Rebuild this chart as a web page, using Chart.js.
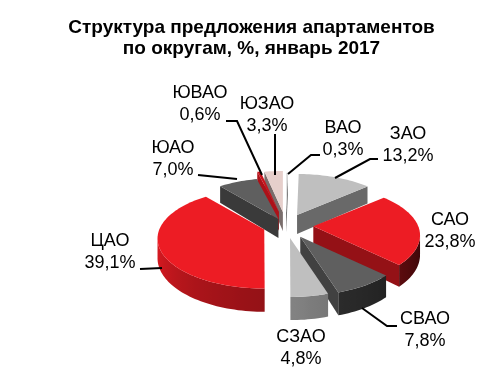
<!DOCTYPE html>
<html lang="ru">
<head>
<meta charset="UTF-8">
<title>Апартаменты</title>
<script src="https://cdn.jsdelivr.net/npm/chart.js@4"></script>
<style>
html,body{margin:0;padding:0;background:#fff;}
#wrap{width:503px;height:375px;}
</style>
</head>
<body>
<div id="wrap"><canvas id="pie" width="503" height="375"></canvas></div>
<script>
const titleLines = ["Структура предложения апартаментов", "по округам, %, январь 2017"];
const districts = ["ВАО", "ЗАО", "САО", "СВАО", "СЗАО", "ЦАО", "ЮАО", "ЮВАО", "ЮЗАО"];
const shares = [0.3, 13.2, 23.8, 7.8, 4.8, 39.1, 7.0, 0.6, 3.3];
const shareText = ["0,3%", "13,2%", "23,8%", "7,8%", "4,8%", "39,1%", "7,0%", "0,6%", "3,3%"];
const colors = ["#d9d9d9", "#bfbfbf", "#ed1c24", "#5f5f5f", "#bfbfbf", "#ed1c24", "#5f5f5f", "#c8141c", "#e6cfcb"];
const wallTone = [1, 1.1, 0.85, 0.8, 1.1, 1, 0.8, 1, 0.6];
// вынос секторов, % от радиуса
const explode = [25, 25, 26, 26, 25, 22, 16, 30, 29];

// подписи: центр x, базовая линия первой строки
const labelX = [343, 408, 450, 425, 301, 110, 173, 200, 267];
const labelY = [133, 139, 225, 324, 342, 246, 153, 98, 109];
const leaders = [
    [[320,155],[311,155],[288,174]],
    [[378,159],[370,159],[335,178]],
    [],
    [[362,308],[387,326],[397,326]],
    [],
    [[140,269],[162,268]],
    [[198,175],[237,179]],
    [[226,121],[237,121],[262,175]],
    [[275,134],[275,175]]
];

// псевдо-3D: перспектива как в исходной картинке
const A = 105, B = 48.4, P = 0.18, D = 19, SHIFT_X = 34.5;

function shade(hex, k){
    const n = parseInt(hex.slice(1), 16);
    const c = [n >> 16, (n >> 8) & 255, n & 255].map(v => Math.min(255, Math.round(v * k)));
    return "rgb(" + c.join(",") + ")";
}

function toneFor(nx){
    return nx < 0 ? 0.62 - nx * 0.28 : 0.62 - nx * 0.32;
}

const pie3d = {
    id: "pie3d",
    beforeDatasetsDraw(chart){
        const ctx = chart.ctx;
        const arcs = chart.getDatasetMeta(0).data;
        const list = arcs.map((arc, i) => {
            const a = arc.getProps(["x","y","startAngle","endAngle"]);
            const mid = (a.startAngle + a.endAngle) / 2;
            const off = arc.options.offset / 100;
            const ox = Math.cos(mid) * off, oy = Math.sin(mid) * off;
            const pts = [[0, 0]];
            const n = Math.max(2, Math.ceil((a.endAngle - a.startAngle) / 0.03));
            for(let j = 0; j <= n; j++){
                const t = a.startAngle + (a.endAngle - a.startAngle) * j / n;
                pts.push([Math.cos(t), Math.sin(t)]);
            }
            return {i, a, pts, ox, oy, order: oy + Math.sin(mid) * 0.6};
        }).sort((p, q) => p.order - q.order);

        list.forEach(item => {
            const color = colors[item.i];
            const ax = item.a.x + SHIFT_X + A * item.ox, ay = item.a.y + B * item.oy;
            const project = (p, h) => {
                const s = 1 / (1 - P * p[1]);
                return [ax + A * p[0] * s, ay + B * p[1] * s + h * D * s];
            };
            const top = item.pts.map(p => project(p, 0));
            const bot = item.pts.map(p => project(p, 1));
            const len = top.length;
            const tone = wallTone[item.i];

            // одна стенка из цепочки рёбер, тон меняется по нормали
            const wall = (from, to) => {
                if(to <= from) return;
                let x0 = Infinity, x1 = -Infinity;
                for(let j = from; j <= to; j++){
                    x0 = Math.min(x0, top[j % len][0]);
                    x1 = Math.max(x1, top[j % len][0]);
                }
                let fill;
                if(x1 - x0 < 1 || to - from < 2){
                    const p = top[from % len], q = top[to % len];
                    const nx = (q[1] - p[1]) / Math.hypot(q[0] - p[0], q[1] - p[1]);
                    fill = shade(color, toneFor(nx) * tone);
                }else{
                    fill = ctx.createLinearGradient(x0, 0, x1, 0);
                    for(let j = from; j < to; j++){
                        const p = top[j % len], q = top[(j + 1) % len];
                        const nx = (q[1] - p[1]) / Math.hypot(q[0] - p[0], q[1] - p[1]);
                        fill.addColorStop(Math.min(1, Math.max(0, (p[0] - x0) / (x1 - x0))), shade(color, toneFor(nx) * tone));
                    }
                }
                ctx.fillStyle = fill;
                ctx.beginPath();
                for(let j = from; j <= to; j++){
                    const p = top[j % len];
                    j === from ? ctx.moveTo(p[0], p[1]) : ctx.lineTo(p[0], p[1]);
                }
                for(let j = to; j >= from; j--){
                    const p = bot[j % len];
                    ctx.lineTo(p[0], p[1]);
                }
                ctx.closePath();
                ctx.fill();
            };

            // рёбра, что смотрят на зрителя: прямые стороны отдельно, дуга цепочкой
            const faces = j => top[(j + 1) % len][0] - top[j % len][0] < 0;
            if(faces(0)) wall(0, 1);
            if(faces(len - 1)) wall(len - 1, len);
            let start = -1;
            for(let j = 1; j <= len - 1; j++){
                const on = j < len - 1 && faces(j);
                if(on && start < 0) start = j;
                if(!on && start >= 0){
                    wall(start, j);
                    start = -1;
                }
            }

            ctx.fillStyle = color;
            ctx.beginPath();
            top.forEach((p, j) => j ? ctx.lineTo(p[0], p[1]) : ctx.moveTo(p[0], p[1]));
            ctx.closePath();
            ctx.fill();
        });
        return false;
    },
    afterDraw(chart){
        const ctx = chart.ctx;
        ctx.save();
        ctx.strokeStyle = "#000";
        ctx.lineWidth = 2;
        leaders.forEach(line => {
            if(!line.length) return;
            ctx.beginPath();
            line.forEach((p, j) => j ? ctx.lineTo(p[0], p[1]) : ctx.moveTo(p[0], p[1]));
            ctx.stroke();
        });
        ctx.fillStyle = "#000";
        ctx.font = "18px 'Liberation Sans'";
        ctx.textAlign = "center";
        ctx.textBaseline = "alphabetic";
        districts.forEach((d, i) => {
            ctx.fillText(d, labelX[i], labelY[i]);
            ctx.fillText(shareText[i], labelX[i], labelY[i] + 22);
        });
        ctx.restore();
    }
};

new Chart(document.getElementById("pie"), {
    type: "pie",
    plugins: [pie3d],
    data: {
        labels: districts,
        datasets: [{
            data: shares,
            backgroundColor: colors,
            borderWidth: 0,
            offset: explode
        }]
    },
    options: {
        responsive: false,
        animation: false,
        plugins: {
            legend: {display: false},
            tooltip: {enabled: false},
            title: {
                display: true,
                text: titleLines,
                color: "#000",
                font: {family: "'Liberation Sans'", size: 19, weight: "bold", lineHeight: 1.13},
                padding: {top: 17, bottom: 17}
            }
        }
    }
});
</script>
</body>
</html>
